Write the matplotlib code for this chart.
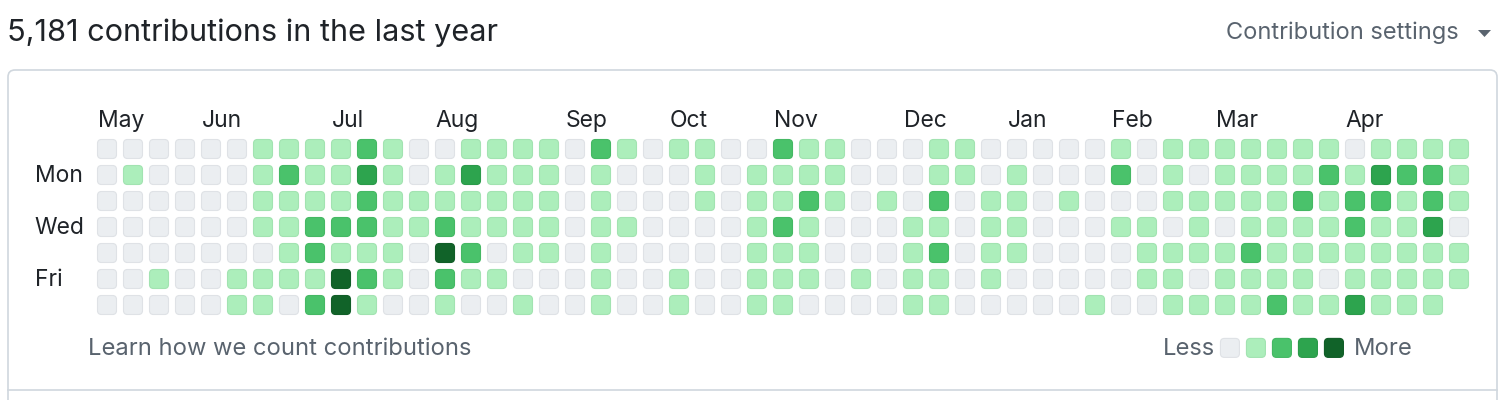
import matplotlib
matplotlib.use("Agg")
import matplotlib.pyplot as plt
from matplotlib.patches import FancyBboxPatch, Polygon

# levels 0-4, one list per weekday, one value per week (last Saturday not yet reached)
sun = [0,0,0,0,0,0,1,1,1,1,2,1,0, 0,1,1,1,1,0,2,1,0,1,1,0,0, 2,1,1,0,0,0,1,1,0,0,0,0,0, 1,0,1,1,1,1,1,1,1,0,1,1,1,1]
mon = [0,1,0,0,0,0,1,2,1,1,3,1,0, 1,3,1,1,1,0,1,0,0,0,1,0,1, 1,1,1,0,0,0,1,1,0,1,0,0,0, 2,0,1,0,1,1,1,1,2,1,3,2,2,1]
tue = [0,0,0,0,0,0,1,1,1,1,2,1,1, 1,1,1,1,1,0,1,0,0,0,1,0,1, 1,2,1,0,1,0,2,0,1,1,0,1,0, 0,0,1,1,1,1,1,2,1,2,2,1,2,1]
wed = [0,0,0,0,0,0,1,1,2,2,2,1,1, 2,1,1,1,1,0,1,1,0,0,0,0,1, 2,1,0,0,0,1,1,0,1,1,0,0,0, 1,1,0,1,0,1,1,1,1,2,1,1,3,0]
thu = [0,0,0,0,0,0,0,1,2,1,1,1,0, 4,2,0,1,1,0,1,0,0,0,0,0,1, 1,1,0,0,0,1,2,0,1,1,0,0,0, 0,1,1,1,1,2,1,1,1,1,1,1,1,1]
fri = [0,0,1,0,0,1,1,1,1,4,2,1,0, 2,1,1,0,0,0,1,0,0,1,0,0,1, 1,1,0,1,0,1,1,0,1,0,0,0,0, 0,1,1,0,1,1,1,1,0,1,1,1,1,1]
sat = [0,0,0,0,0,1,1,0,2,4,1,0,0, 1,0,0,1,0,0,1,0,0,1,0,0,1, 1,0,0,0,0,1,1,0,0,0,0,0,1, 0,0,1,1,1,1,2,1,1,3,1,1,1]
days = [sun, mon, tue, wed, thu, fri, sat]

month_names = ["May", "Jun", "Jul", "Aug", "Sep", "Oct", "Nov", "Dec", "Jan", "Feb", "Mar", "Apr"]
month_weeks = [0, 4, 9, 13, 18, 22, 26, 31, 35, 39, 43, 48]
day_labels = {1: "Mon", 3: "Wed", 5: "Fri"}

total = "5,181"
colors = ["#ebeef1", "#aceebb", "#4ac26b", "#2da44e", "#116329"]
edge = ["#dfe2e6", "#a2e3b1", "#45b864", "#2b9a4a", "#115e28"]

plt.rcParams['font.family'] = ['Inter', 'DejaVu Sans']
W, H = 1506, 400
fig = plt.figure(figsize=(W / 100, H / 100), dpi=100)

# background axes in pixel units for the frame
bg = fig.add_axes([0, 0, 1, 1])
bg.set_xlim(0, W)
bg.set_ylim(H, 0)
bg.axis("off")
bg.add_patch(FancyBboxPatch((8, 70), 1489, 360, boxstyle="round,pad=0,rounding_size=7",
                            fc="white", ec="#d0d7de", lw=1.2))
bg.plot([8, 1497], [389.5, 389.5], color="#d0d7de", lw=1.2)
bg.text(7, 33, f"{total} contributions in the last year", fontsize=22.1, color="#1f2328",
        va="center", ha="left")
bg.text(1459, 33, "Contribution settings", fontsize=17, color="#59636e", va="center", ha="right")
bg.add_patch(Polygon([[1478, 30], [1491, 30], [1484.5, 37]], closed=True, fc="#59636e", ec="none"))

# grid axes: one unit = one week / one day (26 px)
x0, y0, pitch = 94, 136, 26
ax = fig.add_axes([x0 / W, 1 - (y0 + 7 * pitch) / H, 53 * pitch / W, 7 * pitch / H])
ax.set_xlim(-0.5, 52.5)
ax.set_ylim(6.5, -0.5)
ax.axis("off")

s = 19 / 26
r = 4 / 26
for d, row in enumerate(days):
    for w, lv in enumerate(row):
        ax.add_patch(FancyBboxPatch((w - s / 2, d - s / 2), s, s,
                                    boxstyle=f"round,pad=0,rounding_size={r}",
                                    fc=colors[lv], ec=edge[lv], lw=0.8, clip_on=False))

for name, wk in zip(month_names, month_weeks):
    ax.text(wk - s / 2, -1.07, name, fontsize=16.5, color="#1f2328", ha="left", va="center",
            clip_on=False)
for d, lab in day_labels.items():
    ax.text(-2.78, d + 0.04, lab, fontsize=16.5, color="#1f2328", ha="left", va="center",
            clip_on=False)

ax.text(-0.73, 7.7, "Learn how we count contributions", fontsize=17.1, color="#59636e",
        ha="left", va="center", clip_on=False)
leg_start = 43.19
for i, c in enumerate(colors):
    ax.add_patch(FancyBboxPatch((leg_start + i - s / 2, 7.65 - s / 2), s, s,
                                boxstyle=f"round,pad=0,rounding_size={r}",
                                fc=c, ec=edge[i], lw=0.8, clip_on=False))
ax.text(leg_start - s / 2 - 0.2, 7.7, "Less", fontsize=17.1, color="#59636e", ha="right",
        va="center", clip_on=False)
ax.text(leg_start + 4 + s / 2 + 0.4, 7.7, "More", fontsize=17.1, color="#59636e", ha="left",
        va="center", clip_on=False)

fig.savefig("out.png", dpi=100, facecolor="white")
